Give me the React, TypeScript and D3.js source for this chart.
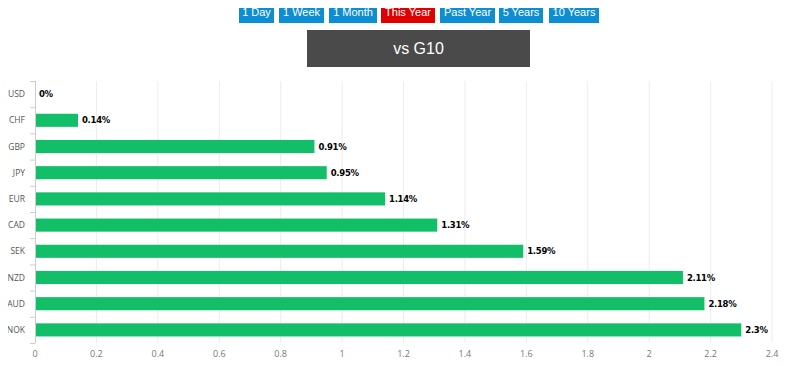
import React, { useEffect, useRef } from 'react';
import * as d3 from 'd3';

const currencies = ['USD', 'CHF', 'GBP', 'JPY', 'EUR', 'CAD', 'SEK', 'NZD', 'AUD', 'NOK'];
const changes = [0, 0.14, 0.91, 0.95, 1.14, 1.31, 1.59, 2.11, 2.18, 2.3];
const xTicks = [0, 0.2, 0.4, 0.6, 0.8, 1, 1.2, 1.4, 1.6, 1.8, 2, 2.2, 2.4];
const periods = ['1 Day', '1 Week', '1 Month', 'This Year', 'Past Year', '5 Years', '10 Years'];
const activePeriod = 'This Year';
const buttonX = [239, 279, 329, 381, 440, 499, 549];
const buttonW = [35, 45, 48, 54, 55, 44, 50];

export default function App() {
  const svgRef = useRef<SVGSVGElement>(null);

  useEffect(() => {
    if (!svgRef.current) return;
    const width = 800;
    const height = 366;
    const margin = { top: 81, right: 28, bottom: 23, left: 35 };

    const svg = d3.select(svgRef.current);
    svg.selectAll('*').remove();
    svg.attr('width', width).attr('height', height);

    // period buttons
    const btns = svg.append('g');
    periods.forEach((p, i) => {
      btns.append('rect')
        .attr('x', buttonX[i])
        .attr('y', 1)
        .attr('width', buttonW[i])
        .attr('height', 22)
        .attr('fill', p === activePeriod ? '#e00000' : '#0d8dd2');
      btns.append('text')
        .attr('x', buttonX[i] + buttonW[i] / 2)
        .attr('y', 16)
        .attr('text-anchor', 'middle')
        .attr('fill', '#fff')
        .style('font-family', 'Liberation Sans, Arial, sans-serif')
        .style('font-size', '11px')
        .text(p);
    });

    // title box
    svg.append('rect')
      .attr('x', 307)
      .attr('y', 30)
      .attr('width', 223)
      .attr('height', 37)
      .attr('fill', '#4a4a4a');
    svg.append('text')
      .attr('x', 418.5)
      .attr('y', 54)
      .attr('text-anchor', 'middle')
      .attr('fill', '#fff')
      .style('font-family', 'Liberation Sans, Arial, sans-serif')
      .style('font-size', '16px')
      .text('vs G10');

    const x = d3.scaleLinear().domain([0, 2.4]).range([margin.left, width - margin.right]);
    const y = d3.scaleBand().domain(currencies)
      .range([margin.top, height - margin.bottom])
      .paddingInner(0.5)
      .paddingOuter(0.25);

    const g = svg.append('g');

    // grid lines
    g.selectAll('.grid')
      .data(xTicks.slice(1))
      .enter().append('line')
      .attr('x1', d => x(d))
      .attr('x2', d => x(d))
      .attr('y1', margin.top)
      .attr('y2', height - margin.bottom)
      .attr('stroke', '#ececec')
      .attr('stroke-width', 1);

    // x tick labels
    g.selectAll('.xlab')
      .data(xTicks)
      .enter().append('text')
      .attr('x', d => x(d))
      .attr('y', 357)
      .attr('text-anchor', 'middle')
      .attr('fill', '#777')
      .style('font-family', 'Open Sans, sans-serif')
      .style('font-size', '9px')
      .text(d => String(d));

    // left axis line and ticks at band boundaries
    g.append('line')
      .attr('x1', margin.left + 0.5)
      .attr('x2', margin.left + 0.5)
      .attr('y1', margin.top)
      .attr('y2', height - margin.bottom)
      .attr('stroke', '#ccc');
    const step = y.step();
    const bounds = d3.range(currencies.length + 1).map(i => margin.top + i * step);
    g.selectAll('.ytick')
      .data(bounds)
      .enter().append('line')
      .attr('x1', margin.left - 5)
      .attr('x2', margin.left)
      .attr('y1', d => d + 0.5)
      .attr('y2', d => d + 0.5)
      .attr('stroke', '#ccc');

    // category labels
    g.selectAll('.ylab')
      .data(currencies)
      .enter().append('text')
      .attr('x', margin.left - 10)
      .attr('y', d => (y(d) as number) + y.bandwidth() / 2 + 3)
      .attr('text-anchor', 'end')
      .attr('fill', '#555')
      .style('font-family', 'Open Sans, sans-serif')
      .style('font-size', '8.5px')
      .text(d => d);

    // bars
    g.selectAll('.bar')
      .data(currencies)
      .enter().append('rect')
      .attr('x', x(0) + 1)
      .attr('y', d => y(d) as number)
      .attr('width', (d, i) => Math.max(0, x(changes[i]) - x(0) - 1))
      .attr('height', y.bandwidth())
      .attr('fill', '#12bf68');

    // value labels
    g.selectAll('.val')
      .data(currencies)
      .enter().append('text')
      .attr('x', (d, i) => x(changes[i]) + 4)
      .attr('y', d => (y(d) as number) + y.bandwidth() / 2 + 3)
      .attr('fill', '#000')
      .style('font-family', 'DejaVu Sans, sans-serif')
      .style('font-size', '8.5px')
      .style('font-weight', 'bold')
      .style('letter-spacing', '-0.3px')
      .text((d, i) => `${changes[i]}%`);
  }, []);

  return (
    <div style={{ margin: -8 }}>
      <svg ref={svgRef} style={{ display: 'block' }}></svg>
    </div>
  );
}
